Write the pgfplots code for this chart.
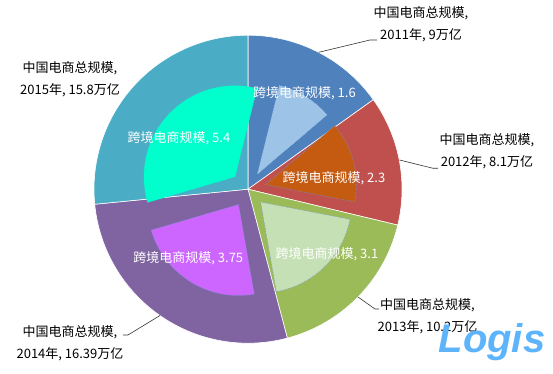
\documentclass[border=0pt]{standalone}
\usepackage{pgfplots}
\usepackage{pgfplotstable}
\pgfplotsset{compat=1.18}
\usepackage{fontspec}
\setmainfont{Noto Sans CJK SC}
\newfontfamily\logofont{Liberation Sans}

\definecolor{o0}{RGB}{79,129,189}
\definecolor{o1}{RGB}{192,80,77}
\definecolor{o2}{RGB}{155,187,89}
\definecolor{o3}{RGB}{128,100,162}
\definecolor{o4}{RGB}{75,172,198}
\definecolor{i0}{RGB}{157,195,230}
\definecolor{i1}{RGB}{197,90,17}
\definecolor{i2}{RGB}{197,224,180}
\definecolor{i3}{RGB}{204,102,255}
\definecolor{i4}{RGB}{0,255,204}
\definecolor{b0}{RGB}{157,195,230}
\definecolor{b1}{RGB}{120,150,205}
\definecolor{b2}{RGB}{120,150,205}
\definecolor{b3}{RGB}{120,150,205}
\definecolor{b4}{RGB}{0,255,204}
\definecolor{logoblue}{RGB}{94,180,250}

\pgfplotstableread{
year total cross
2011 9 1.6
2012 8.1 2.3
2013 10.2 3.1
2014 16.39 3.75
2015 15.8 5.4
}\piedata

% totals
\gdef\totO{0}\gdef\totI{0}
\pgfplotstableforeachcolumnelement{total}\of\piedata\as\cellv{%
  \pgfmathsetmacro\tmpv{\totO+\cellv}\xdef\totO{\tmpv}}
\pgfplotstableforeachcolumnelement{cross}\of\piedata\as\cellv{%
  \pgfmathsetmacro\tmpv{\totI+\cellv}\xdef\totI{\tmpv}}
% outer angles (start at 90, clockwise)
\gdef\cumO{0}
\pgfplotstableforeachcolumnelement{total}\of\piedata\as\cellv{%
  \pgfmathsetmacro\tmpa{90-\cumO/\totO*360}%
  \pgfmathsetmacro\tmpc{\cumO+\cellv}%
  \pgfmathsetmacro\tmpb{90-\tmpc/\totO*360}%
  \expandafter\xdef\csname oS\pgfplotstablerow\endcsname{\tmpa}%
  \expandafter\xdef\csname oE\pgfplotstablerow\endcsname{\tmpb}%
  \xdef\cumO{\tmpc}}
% inner angles (start at 76, clockwise)
\gdef\cumI{0}
\pgfplotstableforeachcolumnelement{cross}\of\piedata\as\cellv{%
  \pgfmathsetmacro\tmpa{76-\cumI/\totI*360}%
  \pgfmathsetmacro\tmpc{\cumI+\cellv}%
  \pgfmathsetmacro\tmpb{76-\tmpc/\totI*360}%
  \pgfmathsetmacro\tmpm{(\tmpa+\tmpb)/2}%
  \expandafter\xdef\csname iS\pgfplotstablerow\endcsname{\tmpa}%
  \expandafter\xdef\csname iE\pgfplotstablerow\endcsname{\tmpb}%
  \expandafter\xdef\csname iM\pgfplotstablerow\endcsname{\tmpm}%
  \xdef\cumI{\tmpc}}

\begin{document}
\begin{tikzpicture}
\begin{axis}[scale only axis, width=553bp, height=374bp,
  xmin=-248, xmax=305, ymin=-184.8, ymax=189.2,
  hide axis, clip=false]
\pgfplotsinvokeforeach{0,...,4}{%
  \edef\cmd{\noexpand\addplot[fill=o#1, draw=white, line width=0.6pt, samples at={-1,0,1,...,90}]
   ({(x>=0)*154*cos(\csname oS#1\endcsname+x/90*((\csname oE#1\endcsname)-(\csname oS#1\endcsname)))},
    {(x>=0)*154*sin(\csname oS#1\endcsname+x/90*((\csname oE#1\endcsname)-(\csname oS#1\endcsname)))}) -- cycle;}%
  \cmd
}
\pgfplotsinvokeforeach{0,...,4}{%
  \edef\cmd{\noexpand\addplot[fill=i#1, draw=b#1, densely dotted, line width=0.6pt, samples at={-1,0,1,...,90}]
   ({18*cos(\csname iM#1\endcsname)+(x>=0)*91*cos(\csname iS#1\endcsname+x/90*((\csname iE#1\endcsname)-(\csname iS#1\endcsname)))},
    {18*sin(\csname iM#1\endcsname)+(x>=0)*91*sin(\csname iS#1\endcsname+x/90*((\csname iE#1\endcsname)-(\csname iS#1\endcsname)))}) -- cycle;}%
  \cmd
}
% leader lines
\draw[line width=0.6pt, black!80] (axis cs:70.7,136.9) -- (axis cs:122,149.2) -- (axis cs:129,149.2);
\draw[line width=0.6pt, black!80] (axis cs:151.5,29.2) -- (axis cs:185,20.9) -- (axis cs:190,20.9);
\draw[line width=0.6pt, black!80] (axis cs:110,-107.8) -- (axis cs:127,-119.8) -- (axis cs:131,-119.8);
\draw[line width=0.6pt, black!80] (axis cs:-88,-126.3) -- (axis cs:-120,-145.8) -- (axis cs:-125,-145.8);
% outer labels
\tikzset{olab/.style={align=center, text=black, inner sep=0pt, font=\fontsize{13bp}{22bp}\selectfont}}
\node[olab] at (axis cs:173,165.2) {中国电商总规模,\\2011年, 9万亿};
\node[olab] at (axis cs:239,37.7) {中国电商总规模,\\2012年, 8.1万亿};
\node[olab] at (axis cs:179.5,-126.8) {中国电商总规模,\\2013年, 10.2万亿};
\node[olab] at (axis cs:-178,-154.1) {中国电商总规模,\\2014年, 16.39万亿};
\node[olab] at (axis cs:-178,110.2) {中国电商总规模,\\2015年, 15.8万亿};
% inner labels
\tikzset{ilab/.style={text=white, inner sep=0pt, font=\fontsize{13bp}{15bp}\selectfont}}
\node[ilab] at (axis cs:56.5,95.9) {跨境电商规模, 1.6};
\node[ilab] at (axis cs:86,11.2) {跨境电商规模, 2.3};
\node[ilab] at (axis cs:79,-64.8) {跨境电商规模, 3.1};
\node[ilab] at (axis cs:-59.7,-69.1) {跨境电商规模, 3.75};
\node[ilab] at (axis cs:-69,50.9) {跨境电商规模, 5.4};
% watermark
\node[text=logoblue, inner sep=0pt, font=\logofont\bfseries\itshape\fontsize{40bp}{40bp}\selectfont] at (axis cs:244,-152.8) {Logis};
\end{axis}
\pgfresetboundingbox
\path (current axis.south west) rectangle (current axis.north east);
\end{tikzpicture}
\end{document}
